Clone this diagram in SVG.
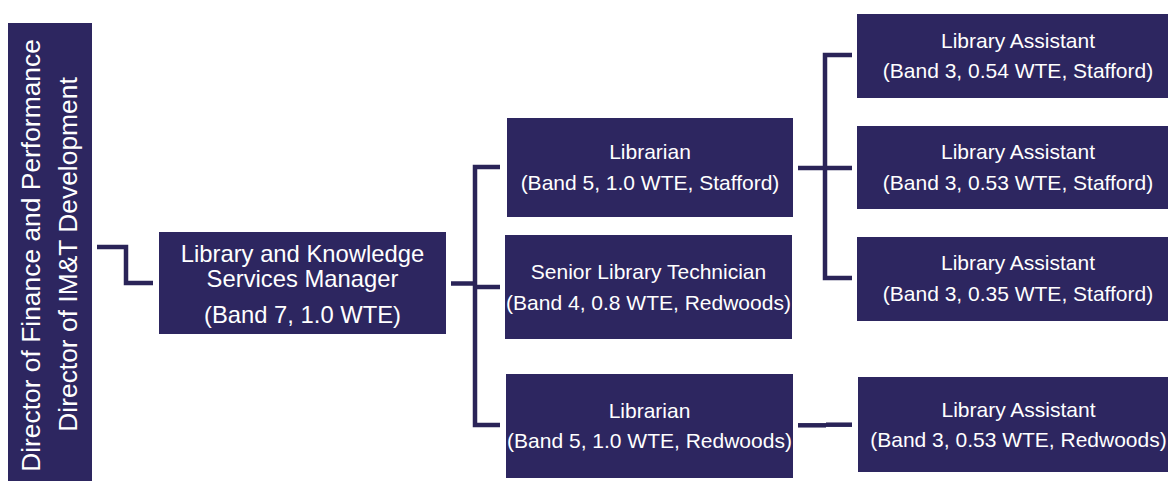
<svg xmlns="http://www.w3.org/2000/svg" width="1168" height="481" viewBox="0 0 1168 481">
<style>
.box{fill:#2d2660;}
.t{font-family:"Liberation Sans",Arial,sans-serif;fill:#ffffff;text-anchor:middle;font-size:21px;}
.tm{font-size:23.8px;}
.tl{font-size:26.4px;}
.c{fill:none;stroke:#2a2458;stroke-width:4.5;stroke-linejoin:miter;stroke-linecap:butt;}
</style>
<rect width="1168" height="481" fill="#ffffff"/>
<g id="connectors">
<path class="c" d="M97,247 H126 V283 H153"/>
<path class="c" d="M451,283.5 H475"/>
<path class="c" d="M500,167 H475 V425 H500"/>
<path class="c" d="M475,287 H500"/>
<path class="c" d="M798,168 H852"/>
<path class="c" d="M852,55 H825 V278 H852"/>
<path class="c" d="M798,425.3 H826"/>
<path class="c" d="M826,424.7 H852"/>
</g>
<g id="director">
<rect class="box" x="8" y="23" width="84" height="458"/>
<text class="t tl" transform="translate(40,255.5) rotate(-90)">Director of Finance and Performance</text>
<text class="t tl" transform="translate(77,254.5) rotate(-90)">Director of IM&amp;T Development</text>
</g>
<g id="manager">
<rect class="box" x="159" y="232" width="287" height="102"/>
<text class="t tm" x="302.5" y="261.5">Library and Knowledge</text>
<text class="t tm" x="302.5" y="286.5">Services Manager</text>
<text class="t tm" x="302.5" y="322.5">(Band 7, 1.0 WTE)</text>
</g>
<g id="librarian-stafford">
<rect class="box" x="507" y="118" width="286" height="99"/>
<text class="t" x="650" y="159.3">Librarian</text>
<text class="t" x="650" y="190">(Band 5, 1.0 WTE, Stafford)</text>
</g>
<g id="senior-technician">
<rect class="box" x="505" y="235" width="287" height="104"/>
<text class="t" x="648.5" y="279.3">Senior Library Technician</text>
<text class="t" x="648.5" y="310">(Band 4, 0.8 WTE, Redwoods)</text>
</g>
<g id="librarian-redwoods">
<rect class="box" x="506" y="374" width="287" height="104"/>
<text class="t" x="649.5" y="418.3">Librarian</text>
<text class="t" x="649.5" y="448.3">(Band 5, 1.0 WTE, Redwoods)</text>
</g>
<g id="assistant-1">
<rect class="box" x="857" y="14" width="311" height="84"/>
<text class="t" x="1018" y="48.3">Library Assistant</text>
<text class="t" x="1018" y="78.3">(Band 3, 0.54 WTE, Stafford)</text>
</g>
<g id="assistant-2">
<rect class="box" x="857" y="126" width="311" height="83"/>
<text class="t" x="1018" y="159">Library Assistant</text>
<text class="t" x="1018" y="190">(Band 3, 0.53 WTE, Stafford)</text>
</g>
<g id="assistant-3">
<rect class="box" x="857" y="237" width="311" height="84"/>
<text class="t" x="1018" y="270">Library Assistant</text>
<text class="t" x="1018" y="300.7">(Band 3, 0.35 WTE, Stafford)</text>
</g>
<g id="assistant-4">
<rect class="box" x="858" y="377" width="310" height="95"/>
<text class="t" x="1018.5" y="416.7">Library Assistant</text>
<text class="t" x="1018.5" y="446.7">(Band 3, 0.53 WTE, Redwoods)</text>
</g>
</svg>
